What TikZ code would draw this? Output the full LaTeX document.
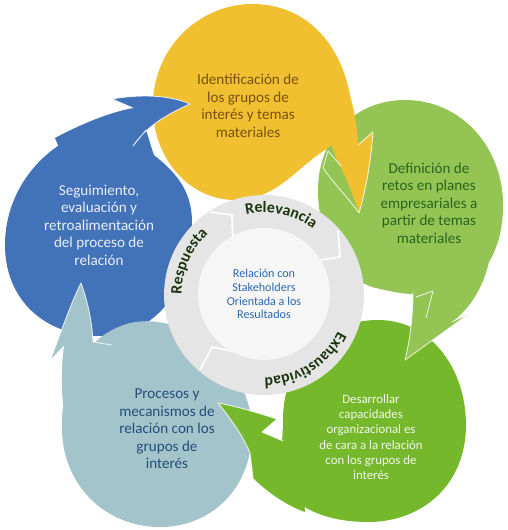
\documentclass[tikz,border=0pt]{standalone}
\usepackage{fontspec}
\setmainfont{Carlito}
\usetikzlibrary{decorations.text}
\definecolor{YelFill}{RGB}{240,192,48}
\definecolor{YelText}{RGB}{122,80,18}
\definecolor{LGFill}{RGB}{147,196,84}
\definecolor{LGText}{RGB}{42,100,30}
\definecolor{DGFill}{RGB}{118,184,44}
\definecolor{DGText}{RGB}{240,247,232}
\definecolor{LBFill}{RGB}{164,196,204}
\definecolor{LBText}{RGB}{38,76,122}
\definecolor{BlueFill}{RGB}{66,114,184}
\definecolor{BlueText}{RGB}{234,239,248}
\definecolor{RingGrey}{RGB}{229,229,229}
\definecolor{CoreGrey}{RGB}{246,246,246}
\definecolor{CoreText}{RGB}{44,104,176}
\definecolor{RingText}{RGB}{28,52,16}

\begin{document}
\begin{tikzpicture}[x=0.02cm, y=-0.02cm, every node/.style={align=center,inner sep=0pt}, rim/.style={draw=white,line width=0.5pt,draw opacity=0.8,line join=round}, ringcut/.style={draw=white,line width=1pt}, blobtext/.style={font=\fontsize{8.6}{10}\selectfont}, ringtext/.style={decorate,decoration={text along path,text align=center,text={|\fontsize{9}{9}\selectfont\bfseries\color{RingText}|#1}}}]
\useasboundingbox (0,0) rectangle (507,530);
% bodies
\fill[BlueFill] (5,245) .. controls (5,185) and (50,135) .. (110,125) .. controls (125,128) and (135,140) .. (147,150) .. controls (175,170) and (192,190) .. (192,222) .. controls (192,290) and (155,336) .. (100,336) .. controls (45,336) and (5,300) .. (5,245) -- cycle;
\fill[LBFill] (62,430) .. controls (60,380) and (85,335) .. (130,323) .. controls (190,310) and (252,370) .. (252,430) .. controls (252,490) and (210,527) .. (160,527) .. controls (105,527) and (63,485) .. (62,430) -- cycle;
\fill[LGFill] (318,190) .. controls (318,138) and (355,100) .. (405,100) .. controls (462,100) and (503,148) .. (503,205) .. controls (503,245) and (488,275) .. (458,290) .. controls (432,300) and (395,293) .. (372,287) .. controls (338,275) and (318,235) .. (318,190) -- cycle;
\fill[YelFill] (153,112) .. controls (150,48) and (200,4) .. (252,4) .. controls (305,4) and (340,42) .. (350,95) .. controls (354,120) and (342,140) .. (322,152) .. controls (295,170) and (275,200) .. (235,200) .. controls (190,200) and (155,160) .. (153,112) -- cycle;
\fill[DGFill] (283,420) .. controls (283,360) and (325,320) .. (378,320) .. controls (430,320) and (466,368) .. (466,425) .. controls (466,485) and (422,522) .. (368,522) .. controls (330,522) and (300,510) .. (285,490) .. controls (278,470) and (283,440) .. (283,420) -- cycle;
% arrow heads
\fill[YelFill] (340,70) .. controls (352,95) and (357,120) .. (358,145) -- (373,132) .. controls (371,160) and (366,190) .. (359,213) .. controls (352,192) and (345,175) .. (336,158) -- (330,140) -- cycle;
\fill[LGFill] (492,240) .. controls (490,275) and (475,305) .. (452,322) -- (470,313) -- (405,360) .. controls (410,340) and (413,315) .. (413,292) -- (440,270) -- cycle;
\fill[DGFill] (300,440) -- (283,441) -- (262,432) -- (277,419) .. controls (255,412) and (235,406) .. (218,403) .. controls (232,420) and (244,438) .. (250,453) -- (253,478) .. controls (265,490) and (285,505) .. (305,512) -- cycle;
\fill[LBFill] (80,410) -- (63,405) .. controls (61,380) and (62,360) .. (64,346) -- (50,361) .. controls (60,335) and (70,305) .. (81,283) .. controls (88,302) and (92,322) .. (93,342) -- (112,345) -- (110,400) -- cycle;
\fill[BlueFill] (60,150) -- (55,138) .. controls (85,122) and (112,112) .. (133,108) -- (112,99) .. controls (140,94) and (170,95) .. (190,104) .. controls (165,115) and (145,128) .. (133,146) -- (146,130) -- (156,162) -- (110,150) -- cycle;
% light rims
\draw[rim] (358,145) -- (373,132) .. controls (371,160) and (366,190) .. (359,213);
\draw[rim] (341,166) -- (328,151) -- (323,168) .. controls (335,185) and (350,200) .. (359,213);
\draw[rim] (452,322) -- (470,313) -- (405,360) .. controls (410,340) and (413,315) .. (413,292);
\draw[rim] (416,297) -- (433,291) -- (426,318);
\draw[rim] (253,478) -- (250,453) .. controls (244,438) and (232,420) .. (218,403) .. controls (235,406) and (255,412) .. (277,419) -- (262,432) -- (283,441);
\draw[rim] (64,346) -- (50,361) .. controls (60,335) and (70,305) .. (81,283) .. controls (88,302) and (92,322) .. (93,342) -- (112,345);
\draw[rim] (133,108) -- (112,99) .. controls (140,94) and (170,95) .. (190,104) .. controls (165,115) and (145,128) .. (133,146) -- (146,130);
% centre
\node[circle,fill=RingGrey,minimum size=4cm] (ring) at (264,295) {};
\draw[ringcut] (210,212) -- (232,215) -- (233,245);
\draw[ringcut] (338,230) -- (340,257) -- (314,261);
\draw[ringcut] (200,370) -- (212,347) -- (236,352);
\node[circle,fill=CoreGrey,minimum size=2.64cm,text=CoreText,font=\fontsize{6.9}{7.9}\selectfont] (core) at (264,294) {Relación con\\Stakeholders\\Orientada a los\\Resultados};
\path[ringtext=Relevancia] (ring.center) ++(110:1.65cm) arc[start angle=110, end angle=46, radius=1.65cm];
\path[ringtext=Exhaustividad] (ring.center) ++(4:1.65cm) arc[start angle=4, end angle=-120, radius=1.65cm];
\path[ringtext=Respuesta] (ring.center) ++(214:1.65cm) arc[start angle=214, end angle=98, radius=1.65cm];
% texts
\node[blobtext,text=YelText] (ident) at (248,106) {Identificación de\\los grupos de\\interés y temas\\materiales};
\node[blobtext,text=LGText] (retos) at (429,203) {Definición de\\retos en planes\\empresariales a\\partir de temas\\materiales};
\node[font=\fontsize{7.3}{8.7}\selectfont,text=DGText] (capac) at (371,437) {Desarrollar\\capacidades\\organizacional es\\de cara a la relación\\con los grupos de\\interés};
\node[blobtext,text=LBText] (procesos) at (167,429) {Procesos y\\mecanismos de\\relación con los\\grupos de\\interés};
\node[blobtext,text=BlueText] (seguim) at (99,225) {Seguimiento,\\evaluación y\\retroalimentación\\del proceso de\\relación};
\end{tikzpicture}
\end{document}
